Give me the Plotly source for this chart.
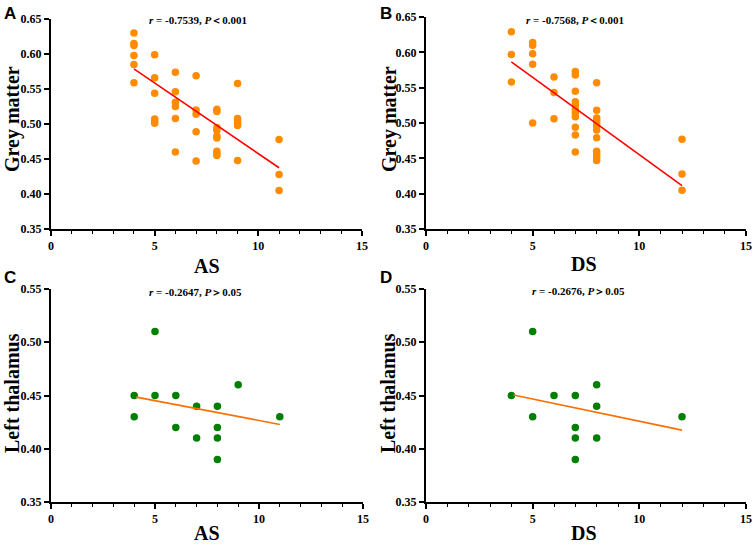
import plotly.graph_objects as go

W, H = 753, 546

# ---- Data ----
a_x = [4, 4, 4, 4, 4, 4,
       5, 5, 5, 5, 5, 5,
       6, 6, 6, 6, 6, 6,
       7, 7, 7, 7, 7,
       8, 8, 8, 8, 8, 8, 8, 8, 8,
       9, 9, 9, 9, 9, 9,
       11, 11, 11]
a_y = [0.630, 0.615, 0.612, 0.598, 0.585, 0.559,
       0.599, 0.566, 0.544, 0.507, 0.504, 0.501,
       0.574, 0.546, 0.531, 0.525, 0.508, 0.460,
       0.569, 0.520, 0.514, 0.489, 0.447,
       0.521, 0.518, 0.495, 0.491, 0.483, 0.480, 0.461, 0.458, 0.455,
       0.558, 0.508, 0.505, 0.501, 0.498, 0.448,
       0.478, 0.428, 0.405]
a_fit_x = [4, 11]
a_fit_y = [0.5787, 0.4375]

b_x = [4, 4, 4,
       5, 5, 5, 5, 5,
       6, 6, 6,
       7, 7, 7, 7, 7, 7, 7, 7, 7, 7, 7,
       8, 8, 8, 8, 8, 8, 8, 8, 8, 8, 8, 8,
       12, 12, 12]
b_y = [0.629, 0.597, 0.558,
       0.614, 0.610, 0.598, 0.583, 0.500,
       0.565, 0.543, 0.506,
       0.573, 0.568, 0.545, 0.530, 0.525, 0.519, 0.514, 0.509, 0.494, 0.483, 0.459,
       0.557, 0.518, 0.507, 0.504, 0.500, 0.496, 0.490, 0.479, 0.460, 0.456, 0.452, 0.447,
       0.477, 0.428, 0.405]
b_fit_x = [4, 12]
b_fit_y = [0.5865, 0.4115]

c_x = [4, 4, 5, 5, 6, 6, 7, 7, 8, 8, 8, 8, 9, 11]
c_y = [0.45, 0.43, 0.51, 0.45, 0.45, 0.42, 0.44, 0.41, 0.44, 0.42, 0.41, 0.39, 0.46, 0.43]
c_fit_x = [4.1, 11]
c_fit_y = [0.4485, 0.4228]

d_x = [4, 5, 5, 6, 7, 7, 7, 7, 8, 8, 8, 12]
d_y = [0.45, 0.51, 0.43, 0.45, 0.45, 0.42, 0.41, 0.39, 0.46, 0.44, 0.41, 0.43]
d_fit_x = [4.1, 12]
d_fit_y = [0.4505, 0.4175]

x_ticks = [0, 5, 10, 15]
y_ticks_top = [0.35, 0.40, 0.45, 0.50, 0.55, 0.60, 0.65]
y_ticks_bot = [0.35, 0.40, 0.45, 0.50, 0.55]

panel_letters = ["A", "B", "C", "D"]
x_titles = ["AS", "DS", "AS", "DS"]
y_titles = ["Grey matter", "Grey matter", "Left thalamus", "Left thalamus"]
stat_texts = ["<i>r</i> = -0.7539, <i>P</i>＜0.001",
              "<i>r</i> = -0.7568, <i>P</i>＜0.001",
              "<i>r</i> = -0.2647, <i>P</i>＞0.05",
              "<i>r</i> = -0.2676, <i>P</i>＞0.05"]

# ---- Styling ----
ORANGE = "rgb(255,140,0)"
GREEN = "rgb(0,128,0)"
RED = "rgb(255,0,0)"
LINE_ORANGE = "rgb(255,110,0)"
SERIF = "Liberation Serif"
SANS = "Liberation Sans"

# pixel boxes: (left, right, top, bottom)
boxes = [(51, 362, 19, 229), (426, 746, 17, 229),
         (51, 363, 289, 502), (426, 746, 289, 502)]
stat_pos = [(198, 20), (575, 20), (195, 292), (578, 291)]
letter_pos = [(2, 2), (378, 2), (2, 266), (378, 266)]
xtitle_pos = [(207, 266), (584, 264), (207, 533), (584, 533)]
ytitle_pos = [(12, 119), (389, 119), (12, 393), (388, 393)]

fig = go.Figure()

panels = [(a_x, a_y, a_fit_x, a_fit_y, ORANGE, RED),
          (b_x, b_y, b_fit_x, b_fit_y, ORANGE, RED),
          (c_x, c_y, c_fit_x, c_fit_y, GREEN, LINE_ORANGE),
          (d_x, d_y, d_fit_x, d_fit_y, GREEN, LINE_ORANGE)]

def pos(p):
    return p[0] / W, 1 - p[1] / H

annotations = []
for i, (px, py, fx, fy, mcol, lcol) in enumerate(panels):
    n = "" if i == 0 else str(i + 1)
    xa, ya = "x" + n, "y" + n
    fig.add_trace(go.Scatter(x=px, y=py, mode="markers", xaxis=xa, yaxis=ya,
                             marker=dict(color=mcol, size=7.5, line=dict(width=0)),
                             showlegend=False, hoverinfo="x+y", cliponaxis=False))
    fig.add_trace(go.Scatter(x=fx, y=fy, mode="lines", xaxis=xa, yaxis=ya,
                             line=dict(color=lcol, width=1.6),
                             showlegend=False, hoverinfo="skip"))
    l, r, t, b = boxes[i]
    yticks = y_ticks_top if i < 2 else y_ticks_bot
    axis_common = dict(showline=True, linecolor="black", linewidth=2,
                       ticks="outside", tickcolor="black", tickwidth=1.5, ticklen=5,
                       showgrid=False, zeroline=False, mirror=False, automargin=False,
                       tickfont=dict(family=SERIF, size=12, color="black", weight="bold"))
    fig.update_layout(**{
        "xaxis" + n: dict(domain=[l / W, r / W], range=[0, 15], anchor=ya,
                          tickmode="array", tickvals=x_ticks,
                          ticktext=[str(v) for v in x_ticks],
                          minor=dict(tickmode="linear", tick0=0, dtick=1, ticks="outside",
                                     ticklen=3, tickwidth=1.2, tickcolor="black"),
                          **axis_common),
        "yaxis" + n: dict(domain=[1 - b / H, 1 - t / H], range=[yticks[0], yticks[-1]], anchor=xa,
                          tickmode="array", tickvals=yticks,
                          ticktext=["%.2f" % v for v in yticks],
                          **axis_common),
    })
    x0, y0 = pos(stat_pos[i])
    annotations.append(dict(text=stat_texts[i], xref="paper", yref="paper",
                            x=x0, y=y0, xanchor="center", yanchor="middle",
                            showarrow=False,
                            font=dict(family=SERIF, size=11, color="black", weight="bold")))
    x0, y0 = pos(letter_pos[i])
    annotations.append(dict(text="<b>%s</b>" % panel_letters[i], xref="paper", yref="paper",
                            x=x0, y=y0, xanchor="left", yanchor="top",
                            showarrow=False,
                            font=dict(family=SANS, size=17, color="black")))
    x0, y0 = pos(xtitle_pos[i])
    annotations.append(dict(text=x_titles[i], xref="paper", yref="paper",
                            x=x0, y=y0, xanchor="center", yanchor="middle",
                            showarrow=False,
                            font=dict(family=SERIF, size=20, color="black", weight="bold")))
    x0, y0 = pos(ytitle_pos[i])
    annotations.append(dict(text=y_titles[i], xref="paper", yref="paper",
                            x=x0, y=y0, xanchor="center", yanchor="middle",
                            textangle=-90, showarrow=False,
                            font=dict(family=SERIF, size=20, color="black", weight="bold")))

fig.update_layout(width=W, height=H, margin=dict(l=0, r=0, t=0, b=0),
                  paper_bgcolor="white", plot_bgcolor="white",
                  annotations=annotations, showlegend=False)

fig.write_html("out.html", config={"displayModeBar": False},
               post_script="document.body.style.margin='0';document.body.style.overflow='hidden';")
